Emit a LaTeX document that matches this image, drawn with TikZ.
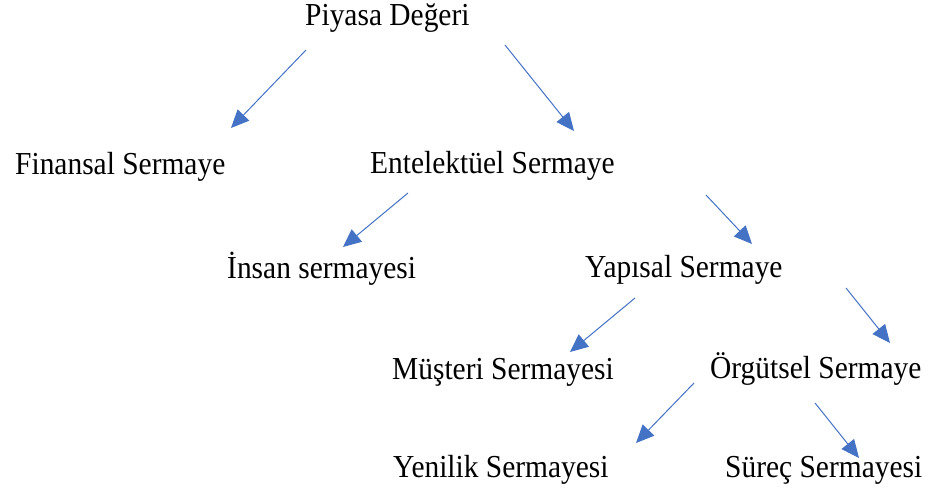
\documentclass[tikz,border=0pt]{standalone}
\usepackage{fontspec}
\usepackage{graphicx}
\setmainfont{Liberation Serif}
\usetikzlibrary{arrows.meta}
\definecolor{arrowblue}{HTML}{4472C4}
\tikzset{
  lbl/.style={anchor=base west, inner sep=0pt, font=\fontsize{32}{32}\selectfont},
  conn/.style={draw=arrowblue, line width=1pt, -{Triangle[length=18pt,width=16pt]}, color=arrowblue}
}
\newcommand{\sq}[1]{\scalebox{0.92}[1]{#1}}
\begin{document}
\begin{tikzpicture}[x=1pt,y=-1pt]
\useasboundingbox (0,0) rectangle (936,494);
\node[lbl] (pd) at (305,26) {\sq{Piyasa Değeri}};
\node[lbl] (fs) at (15,175) {\sq{Finansal Sermaye}};
\node[lbl] (es) at (370,174) {\sq{Entelektüel Sermaye}};
\node[lbl] (is) at (227,278) {\sq{İnsan sermayesi}};
\node[lbl] (ys) at (585,277) {\sq{Yapısal Sermaye}};
\node[lbl] (ms) at (392,379) {\sq{Müşteri Sermayesi}};
\node[lbl] (os) at (710,378) {\sq{Örgütsel Sermaye}};
\node[lbl] (yn) at (393,477) {\sq{Yenilik Sermayesi}};
\node[lbl] (ss) at (725,477) {\sq{Süreç Sermayesi}};
\coordinate (a1s) at (306,50);  \coordinate (a1e) at (231,128);
\coordinate (a2s) at (505,45);  \coordinate (a2e) at (574,131);
\coordinate (a3s) at (408,193); \coordinate (a3e) at (343,247);
\coordinate (a4s) at (706,195); \coordinate (a4e) at (752,244);
\coordinate (a5s) at (635,298); \coordinate (a5e) at (570,352);
\coordinate (a6s) at (846,288); \coordinate (a6e) at (890,343);
\coordinate (a7s) at (694,383); \coordinate (a7e) at (636,443);
\coordinate (a8s) at (815,403); \coordinate (a8e) at (859,458);
\draw[conn] (a1s) -- (a1e);
\draw[conn] (a2s) -- (a2e);
\draw[conn] (a3s) -- (a3e);
\draw[conn] (a4s) -- (a4e);
\draw[conn] (a5s) -- (a5e);
\draw[conn] (a6s) -- (a6e);
\draw[conn] (a7s) -- (a7e);
\draw[conn] (a8s) -- (a8e);
\end{tikzpicture}
\end{document}
